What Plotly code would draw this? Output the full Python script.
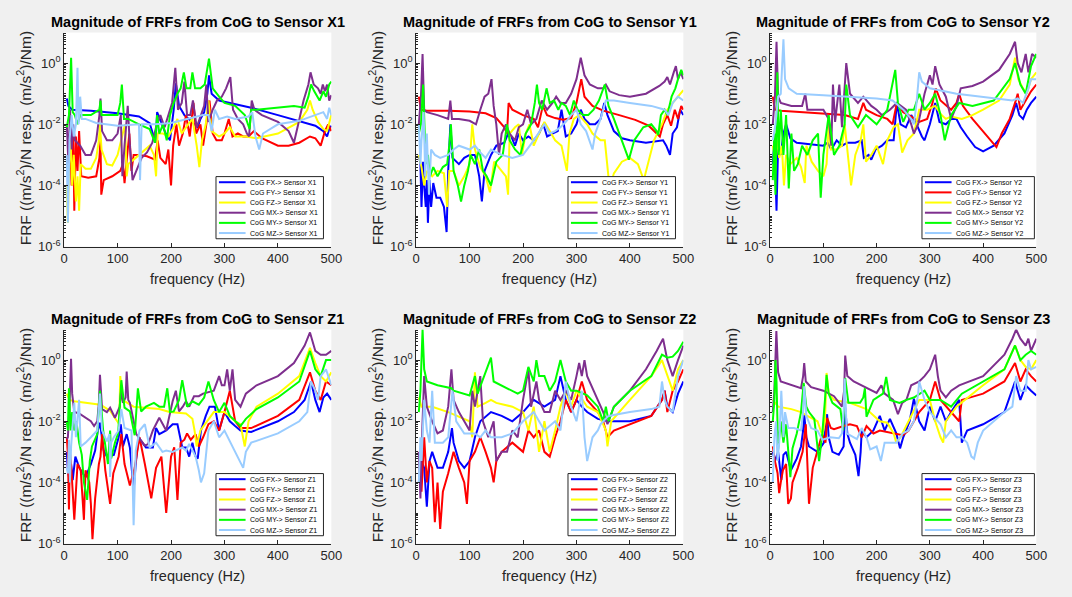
import plotly.graph_objects as go

# ---------------- data (frequency Hz, FRF magnitude) ----------------
SENSORS = ["X1", "Y1", "Y2", "Z1", "Z2", "Z3"]
INPUTS = ["FX", "FY", "FZ", "MX", "MY", "MZ"]
COLORS = ["#0000ff", "#ff0000", "#ffff00", "#7e2f8e", "#00ff00", "#99ccff"]
X_TICKS = [0, 100, 200, 300, 400, 500]
Y_TICKS = [1e-6, 1e-4, 1e-2, 1e0]
Y_TICK_TEXT = ["10<sup>-6</sup>", "10<sup>-4</sup>", "10<sup>-2</sup>", "10<sup>0</sup>"]
Y_MINOR = [m * 10.0 ** e for e in range(-6, 1) for m in range(1, 10)] + [10.0]

X1_FX = [(5,7e-2),(8,4e-2),(15,3e-2),(50,2.8e-2),(100,2.3e-2),(140,1.8e-2),(160,1.1e-2),(168,4e-3),(171,2.5e-3),(174,2.5e-2),(180,1.4e-2),(190,5e-3),(198,3e-3),(205,3e-2),(209,2.2e-1),(215,4e-2),(225,2e-2),(240,1.2e-2),(250,8e-3),(255,1.5e-2),(262,2.5e-2),(268,1e-1),(271,4e-1),(276,1e-1),(290,6e-2),(300,5.5e-2),(350,3.5e-2),(400,2e-2),(450,1.1e-2),(470,9e-3),(485,6e-3),(492,4e-3),(496,7e-3),(500,9e-3)]
X1_FY = [(5,1e-3),(8,2e-4),(11,3e-3),(14,1e-4),(17,5e-3),(19,1.5e-5),(22,4e-3),(25,3e-4),(28,6e-3),(32,2e-4),(45,1.8e-4),(60,2e-4),(66,8e-4),(68,3e-3),(69.5,5e-5),(74,1.5e-4),(90,2e-4),(105,3e-4),(110,5e-4),(113,1.2e-4),(118,1e-3),(122,5e-3),(126,3e-4),(130,1e-3),(140,1e-3),(155,9e-4),(170,7e-4),(175,3e-3),(180,8e-4),(190,5e-4),(195,1.5e-3),(200,1e-4),(204,2e-3),(210,1e-2),(215,2e-3),(222,5e-3),(228,2e-2),(235,4e-3),(242,5e-2),(247,5e-3),(255,1e-2),(260,2e-3),(266,1e-2),(272,6e-2),(278,5e-3),(285,3e-3),(295,3e-3),(300,5e-3),(308,1.5e-2),(315,4e-3),(325,5e-3),(335,4e-3),(345,4e-3),(355,6e-3),(370,3.5e-3),(400,2e-3),(420,2e-3),(440,2.5e-3),(460,4e-3),(470,3.5e-3),(480,2e-3),(488,6e-3),(494,1e-2),(500,6e-3)]
X1_FZ = [(5,1e-4),(7,6e-6),(9,5e-4),(12,3e-3),(15,1e-4),(18,1e-3),(22,3e-5),(25,2e-4),(28,1.5e-5),(31,5e-4),(40,3.5e-4),(50,3.5e-4),(60,8e-4),(65,3e-3),(67,1e-2),(70,1.5e-3),(80,5e-4),(90,4.5e-4),(100,1e-3),(108,4e-3),(114,1e-2),(117,2e-4),(120,5e-4),(130,7e-4),(140,1e-3),(160,2e-3),(168,1e-3),(172,2e-4),(175,5e-3),(185,5e-3),(195,4e-3),(205,8e-3),(212,1.5e-2),(220,5e-3),(232,1e-2),(240,1.5e-2),(248,2e-3),(253,4e-4),(258,3e-3),(265,1e-2),(270,6e-2),(276,6e-3),(290,4e-3),(300,5e-3),(310,8e-3),(320,4e-3),(340,4e-3),(360,3.5e-3),(400,5e-3),(440,1.2e-2),(455,3e-2),(460,6e-2),(465,3e-2),(475,1.2e-2),(485,7e-3),(492,6e-3),(500,2e-2)]
X1_MX = [(5,1e-2),(8,5e-4),(11,3e-2),(14,1.5e-3),(17,1e-2),(20,3e-3),(30,2e-3),(40,1e-3),(50,1e-3),(60,3e-3),(66,2e-2),(68,7e-2),(71,6e-3),(80,3e-3),(90,3e-3),(100,5e-3),(106,2e-2),(109,2e-4),(113,2e-3),(119,4e-2),(123,2e-3),(128,1.5e-4),(135,3e-4),(145,8e-4),(155,1.2e-3),(165,2.5e-3),(172,8e-3),(180,2e-2),(188,8e-3),(195,2e-2),(202,5e-2),(208,7e-1),(213,3e-2),(220,5e-2),(225,2.5e-1),(230,2e-2),(236,2e-2),(241,6e-2),(248,8e-3),(256,2e-2),(262,4e-2),(266,2e-1),(270,1.2e-2),(278,3e-2),(286,6e-2),(295,8e-2),(303,1.5e-1),(311,3.5e-1),(316,3e-2),(325,1.5e-2),(335,1e-2),(342,5e-3),(346,4e-3),(351,6e-2),(356,3e-2),(370,2e-2),(400,1.2e-2),(420,6e-3),(430,2.5e-3),(438,1e-2),(448,6e-2),(457,2e-1),(461,5e-1),(467,2e-1),(475,1.5e-1),(480,1e-1),(484,2e-1),(488,1.2e-1),(492,2e-1),(496,6e-2),(500,9e-2)]
X1_MY = [(5,8e-3),(9,2e-2),(13,1.5),(16,2.5e-2),(20,2e-2),(25,1e-2),(30,2e-2),(50,2e-2),(66,3e-2),(68,6e-2),(70,2e-2),(100,2e-2),(105,5e-2),(108,2e-1),(112,1.5e-2),(120,1.5e-2),(140,1e-2),(160,7e-3),(170,2.5e-3),(174,2e-2),(178,5e-3),(185,1e-2),(192,3e-3),(198,2e-2),(205,5e-2),(212,1e-1),(218,1.5e-1),(224,5e-1),(229,1.5e-1),(236,1.5e-1),(240,5e-1),(245,1.5e-1),(255,1.5e-1),(263,2e-1),(271,1.4),(278,1.5e-1),(290,8e-2),(300,5e-2),(320,4e-2),(338,2e-2),(347,7e-3),(350,3e-2),(360,3e-2),(400,3.5e-2),(430,4e-2),(450,3.5e-2),(457,8e-2),(462,2e-1),(468,1.2e-1),(478,6e-2),(485,1.2e-1),(490,8e-2),(496,2e-1),(500,2.5e-1)]
X1_MZ = [(5,1e-3),(7,6e-6),(10,3e-3),(14,2e-2),(18,4e-3),(22,1e-2),(25,7e-1),(27,1e-2),(30,8e-2),(33,1.5e-2),(40,1.5e-2),(60,1.1e-2),(100,9e-3),(140,1e-2),(142,1.5e-4),(145,1e-2),(170,1e-2),(200,1.1e-2),(230,1.5e-2),(260,2e-2),(270,2e-2),(276,6e-3),(282,3e-2),(290,1.5e-2),(305,1.8e-2),(320,1.5e-2),(345,1.8e-2),(352,2.5e-2),(358,4e-3),(365,1.5e-3),(372,5e-3),(400,1e-2),(440,1.3e-2),(470,2e-2),(485,2.5e-2),(492,1.5e-2),(496,3.5e-2),(500,2e-2)]

Y1_FX = [(5,1e-3),(8,5e-4),(10,2e-5),(13,6e-4),(15,1e-4),(18,2e-5),(20,1.5e-4),(22,6e-6),(25,1.5e-4),(28,2e-5),(32,1.2e-4),(38,4e-5),(45,4e-5),(52,2e-5),(57,3e-6),(60,3e-4),(64,1e-2),(68,8e-4),(80,5e-4),(90,8e-4),(100,1e-3),(110,1e-3),(118,2e-4),(123,3e-5),(128,3e-4),(140,1e-3),(150,2e-3),(165,2.5e-3),(172,5e-3),(178,4e-3),(185,2e-3),(192,5e-3),(200,3e-3),(210,4e-3),(220,3e-3),(230,5e-3),(238,1e-2),(245,4e-3),(255,5e-3),(265,6e-3),(272,3e-2),(280,4e-3),(290,5e-3),(300,1e-2),(308,3e-2),(315,1.5e-2),(325,1e-2),(335,1e-2),(345,1.5e-2),(352,5e-2),(358,2e-2),(370,6e-3),(385,3.5e-3),(400,3e-3),(430,2.5e-3),(450,2.8e-3),(462,3e-3),(468,2e-3),(475,1e-3),(480,5e-3),(488,8e-3),(494,3e-2),(500,2e-2)]
Y1_FY = [(5,8e-2),(9,3e-2),(20,2.8e-2),(60,2.8e-2),(100,2.6e-2),(130,2.3e-2),(150,1.6e-2),(165,8e-3),(170,5e-3),(173,5e-2),(180,3e-2),(200,2e-2),(220,1.5e-2),(228,8e-3),(237,4e-2),(245,2e-2),(260,1.6e-2),(275,1.4e-2),(290,1.6e-2),(300,5e-2),(309,3e-1),(315,8e-2),(330,4e-2),(350,2.8e-2),(380,2e-2),(410,1.4e-2),(435,9e-3),(450,5e-3),(456,4e-3),(462,1e-2),(470,2e-2),(477,9e-3),(484,3e-2),(490,1.5e-2),(496,4e-2),(500,3e-2)]
Y1_FZ = [(5,1e-3),(10,4e-4),(15,1e-4),(20,3e-4),(30,2e-4),(40,3e-4),(52,2.5e-4),(58,2e-5),(62,3e-4),(70,3e-4),(80,1e-4),(90,2e-4),(100,5e-4),(105,1e-2),(110,1.5e-3),(120,4e-4),(130,2e-4),(138,6e-5),(146,6e-4),(160,3e-4),(168,2e-4),(172,5e-5),(175,5e-3),(185,8e-3),(192,1e-2),(198,1e-3),(205,5e-3),(212,1e-2),(220,2e-3),(230,5e-3),(240,1.2e-2),(250,6e-3),(260,3e-3),(272,2e-3),(282,3e-4),(287,5e-3),(295,1.5e-2),(305,2e-2),(320,1e-2),(330,5e-3),(345,3e-3),(353,3e-3),(358,5e-4),(362,8e-5),(370,2.5e-4),(385,6e-4),(400,8e-4),(415,5e-4),(426,1.5e-4),(432,4e-4),(445,3e-3),(460,1e-2),(470,3e-2),(480,5e-2),(490,8e-2),(500,1.3e-1)]
Y1_MX = [(5,1e-2),(9,8e-2),(12,2),(15,3e-2),(20,2.5e-2),(40,2e-2),(60,1.5e-2),(64,6e-2),(67,1.5e-2),(80,1.5e-2),(100,1.3e-2),(112,1e-2),(120,3e-2),(128,8e-2),(135,1e-1),(141,3e-1),(145,4e-2),(150,1e-2),(155,1e-3),(160,5e-3),(168,1e-2),(175,5e-3),(185,3e-3),(192,8e-3),(200,1e-2),(208,3e-2),(215,1e-2),(225,1.5e-2),(235,6e-2),(245,3e-2),(255,5e-2),(262,8e-2),(270,5e-2),(280,5e-2),(290,1e-1),(300,3e-1),(308,1.5),(315,4e-1),(325,2e-1),(340,1.5e-1),(350,1.5e-1),(355,2e-1),(362,1.2e-1),(380,9e-2),(400,8e-2),(430,1e-1),(455,1.8e-1),(465,2.5e-1),(470,3.5e-1),(475,2e-1),(482,5e-1),(486,8e-1),(490,3e-1),(495,5e-1),(500,3e-1)]
Y1_MY = [(5,5e-3),(9,1e-2),(13,2e-1),(16,3e-3),(18,5e-4),(22,1e-3),(26,2e-4),(32,4e-4),(40,2e-4),(50,4e-4),(58,5e-4),(62,2e-3),(65,1e-2),(70,3e-4),(78,1e-4),(84,3e-5),(90,1e-4),(97,3e-4),(102,1e-3),(110,5e-4),(118,1.5e-3),(125,3e-4),(132,2e-4),(140,1e-4),(150,6e-4),(162,1e-3),(170,1e-2),(175,3e-3),(185,1.5e-3),(195,1e-3),(205,5e-3),(215,1e-2),(222,5e-2),(226,2e-1),(230,5e-2),(236,3e-2),(244,1.5e-1),(250,5e-2),(258,6e-2),(266,3e-2),(272,5e-2),(280,4e-2),(288,2e-2),(295,6e-2),(302,3e-2),(312,2e-2),(322,2e-2),(332,3e-2),(342,6e-2),(353,2e-1),(360,4e-2),(370,1.5e-2),(385,3e-3),(398,7e-4),(408,3e-3),(425,8e-3),(440,1e-2),(450,6e-3),(453,4.5e-3),(458,2e-2),(465,3e-2),(470,2e-2),(478,8e-2),(485,1.5e-1),(490,3e-1),(496,6e-1),(500,4e-1)]
Y1_MZ = [(5,1e-2),(8,5e-4),(10,3e-3),(14,2.5e-2),(17,2e-4),(20,5e-3),(24,5e-5),(28,1.5e-3),(35,1e-3),(45,8e-4),(60,1e-3),(70,1.5e-3),(80,2e-3),(100,1.5e-3),(110,2e-3),(120,1.2e-3),(130,8e-4),(140,1.5e-3),(160,1e-3),(180,8e-4),(200,1e-3),(220,3e-3),(240,1e-2),(250,5e-3),(260,6e-3),(270,8e-3),(280,1.2e-2),(290,2e-2),(300,3e-2),(308,1e-2),(318,6e-3),(330,1.5e-3),(335,5e-3),(345,1.5e-2),(355,6e-2),(370,6e-2),(400,5e-2),(440,4e-2),(465,3e-2),(472,2e-2),(480,5e-2),(490,8e-2),(500,6e-2)]

Y2_FX = [(5,5e-4),(8,3e-3),(12,1.5e-5),(15,2e-3),(20,1e-3),(25,5e-3),(30,1e-2),(38,3.5e-3),(50,2.5e-3),(80,2.2e-3),(100,2e-3),(108,2.5e-3),(115,1.5e-3),(125,3e-3),(135,2e-3),(145,2.5e-3),(160,2.5e-3),(172,3e-3),(176,8e-4),(185,1e-3),(190,7e-4),(198,1.5e-3),(210,2e-3),(220,3e-3),(232,3e-3),(238,5e-2),(245,1e-2),(255,8e-3),(265,2e-2),(275,1e-2),(285,4e-3),(290,3e-3),(300,1e-2),(310,5e-2),(318,1.2e-2),(330,1e-2),(340,1.5e-2),(350,1.5e-2),(358,8e-3),(370,4e-3),(385,1.8e-3),(400,1.3e-3),(420,2e-3),(440,5e-3),(455,2e-2),(462,5e-2),(468,2e-2),(475,1.5e-2),(482,3e-2),(490,5e-2),(500,8e-2)]
Y2_FY = [(5,8e-2),(9,3e-2),(20,2.8e-2),(60,2.5e-2),(100,2.3e-2),(140,2e-2),(165,1.5e-2),(175,5e-2),(180,3e-2),(200,2e-2),(220,1.5e-2),(230,1e-2),(238,5e-2),(250,2.5e-2),(265,1.8e-2),(280,1.2e-2),(295,1.5e-2),(305,5e-2),(311,1.5e-1),(320,6e-2),(340,3e-2),(350,5e-2),(355,1e-1),(362,4e-2),(380,1.5e-2),(400,6e-3),(415,3e-3),(425,1.8e-3),(435,5e-3),(450,1.5e-2),(460,5e-2),(465,1e-1),(470,3e-2),(480,6e-2),(490,1.2e-1),(500,2e-1)]
Y2_FZ = [(5,2e-3),(9,8e-4),(13,3e-3),(17,8e-4),(22,2e-3),(26,1e-4),(30,1e-3),(38,5e-4),(50,8e-4),(58,4e-4),(65,1.2e-4),(68,2e-3),(78,6e-4),(90,3e-4),(100,2e-4),(106,5e-4),(110,1e-2),(114,1.5e-3),(125,1.5e-3),(135,2e-3),(140,1e-2),(145,1.5e-3),(152,1e-4),(160,1e-3),(170,3e-3),(175,1e-2),(180,6e-4),(190,1e-3),(200,2e-3),(212,5e-4),(220,3e-3),(232,8e-3),(240,1e-2),(248,1.2e-3),(258,3e-3),(270,5e-3),(280,3e-2),(295,3e-2),(310,4e-2),(322,2e-2),(330,1.5e-2),(340,1.8e-2),(360,1.5e-2),(380,2e-2),(400,3e-2),(430,6e-2),(450,2e-1),(460,1.5),(466,3e-1),(475,1.5e-1),(482,1e-1),(490,3e-1),(500,5e-1)]
Y2_MX = [(5,1e-2),(9,8e-2),(12,5),(15,8e-2),(20,5e-2),(40,4e-2),(60,4e-2),(66,1e-1),(70,3e-2),(100,3e-2),(110,1.5e-2),(115,2e-3),(118,2e-1),(122,1.2e-2),(130,2e-1),(135,8e-3),(143,1),(150,1e-1),(165,5e-2),(175,8e-2),(190,4e-2),(200,3e-2),(210,2e-2),(225,3e-2),(238,5e-2),(255,3e-2),(265,1e-2),(270,5e-3),(278,1e-2),(290,1e-1),(300,4e-1),(305,2e-1),(310,8e-1),(318,2e-1),(330,8e-2),(340,1.5e-2),(350,4e-2),(358,1.5e-1),(380,1.8e-1),(400,2.5e-1),(430,6e-1),(450,2),(460,5),(465,1),(472,5e-1),(480,2),(485,5e-1),(492,2),(500,1.5)]
Y2_MY = [(5,1.5e-4),(8,5e-3),(10,5e-5),(12,5e-2),(13.5,5e-1),(16,1e-3),(20,3e-2),(25,1e-3),(30,2e-2),(35,8e-5),(40,5e-3),(45,3e-4),(52,5e-4),(60,2e-3),(70,1e-3),(80,3e-3),(90,5e-3),(95,4e-5),(100,1e-3),(110,2e-2),(115,5e-3),(120,1e-3),(130,2e-3),(140,1e-2),(143,2e-1),(150,2e-2),(165,8e-3),(180,2e-2),(200,1e-2),(220,3e-2),(235,6e-1),(240,5e-2),(250,1.2e-2),(260,3e-2),(270,3e-2),(280,1e-1),(290,3e-2),(300,5e-2),(310,1e-1),(320,2e-2),(328,3e-3),(340,2e-2),(355,5e-2),(380,4e-2),(420,6e-2),(450,3e-1),(460,1),(470,2e-1),(480,1e-1),(490,8e-1),(500,2)]
Y2_MZ = [(5,3e-3),(10,1e-2),(15,8e-2),(20,1e-1),(25,6),(28,3e-1),(35,1.5e-1),(50,1e-1),(100,9e-2),(150,8e-2),(200,7e-2),(230,6e-2),(250,3e-2),(265,1.5e-2),(270,1e-2),(275,5e-2),(280,5e-1),(285,2.5e-1),(300,1.5e-1),(350,1e-1),(400,8e-2),(455,6e-2),(465,7e-2),(475,5e-2),(485,1.5e-1),(490,3e-1),(500,3e-1)]

Z1_FX = [(5,1e-3),(7,2.5e-4),(10,1.2e-4),(13,4e-4),(16,1.2e-4),(21,7e-4),(26,4e-4),(31,2.5e-4),(40,1.5e-4),(50,4e-4),(58,1.1e-3),(63,5e-3),(67,9e-3),(71,3e-3),(74,1.1e-3),(80,7e-4),(93,8e-4),(102,3e-3),(106,8e-3),(110,1.5e-3),(117,3.8e-3),(123,1.4e-3),(130,5.6e-5),(134,4e-4),(139,3e-3),(153,1.4e-3),(166,1.4e-3),(172,6e-3),(178,3.8e-3),(191,5e-3),(203,8e-3),(212,8e-3),(221,1.4e-3),(228,1.4e-3),(234,7e-4),(240,2e-3),(246,7e-4),(250,6e-4),(256,5e-3),(265,1.5e-2),(272,3e-2),(282,3e-2),(290,5e-3),(300,2e-2),(310,1e-2),(320,7e-3),(330,5e-3),(350,4.5e-3),(400,1e-2),(430,2e-2),(450,5e-2),(462,2e-1),(470,5e-2),(478,2e-2),(485,6e-2),(492,8e-2),(500,5e-2)]
Z1_FY = [(5,3e-3),(7,8e-4),(9,1.3e-5),(11,1e-3),(14,2e-4),(19,6e-6),(25,4e-4),(31,2.5e-4),(37,6e-6),(40,2.5e-4),(47,1e-4),(50,2e-5),(53,1.4e-6),(58,3e-5),(65,4e-4),(68,7e-4),(71,3.8e-3),(77,2.5e-4),(86,2e-5),(92,2e-4),(102,7e-4),(107,3.8e-3),(113,4e-4),(123,8e-5),(132,3e-4),(141,3e-3),(151,4e-4),(163,3e-5),(172,3e-4),(182,7e-4),(191,1e-5),(200,7e-4),(206,1.4e-3),(212,2.7e-5),(218,2e-3),(225,2.5e-3),(230,4e-3),(237,2.5e-3),(246,3.8e-3),(252,1.5e-3),(260,3e-3),(270,8e-3),(280,1e-2),(290,5e-3),(300,2e-2),(310,1e-1),(320,1e-2),(330,6e-3),(350,6e-3),(400,1.5e-2),(440,5e-2),(460,4e-1),(470,1e-1),(480,5e-2),(490,2e-1),(500,1.5e-1)]
Z1_FZ = [(5,8e-2),(10,5e-2),(19,4.5e-2),(43,4e-2),(68,3.5e-2),(86,2.2e-2),(99,1e-2),(103,8e-3),(105,3e-1),(109,5e-2),(130,3e-2),(153,2.8e-2),(178,2.5e-2),(197,2e-2),(228,1.8e-2),(240,1.2e-2),(244,5e-3),(248,1.5e-3),(255,5e-3),(280,2e-2),(300,2e-2),(320,1e-2),(330,8e-3),(338,1.5e-3),(345,1e-2),(360,3e-2),(400,8e-2),(440,3e-1),(460,2.5),(470,8e-1),(480,3e-1),(490,2e-1),(500,4e-1)]
Z1_MX = [(5,2.6e-3),(7,3e-3),(10,3e-2),(12.9,1.1),(15,8e-2),(19,2e-2),(28,1.8e-2),(40,1.3e-2),(50,1e-2),(56,7e-3),(62,1e-2),(65,4e-2),(67,3.3e-1),(71,2.5e-2),(80,2e-2),(86,2.8e-2),(95,1.3e-2),(104,3e-2),(107,1.2e-1),(110,4e-2),(115,6e-2),(117,4.2e-1),(120,5e-2),(123,4e-2),(135,3.8e-3),(151,1.6e-3),(157,1.8e-3),(166,5e-3),(178,1.3e-2),(191,5e-3),(203,4.5e-2),(209,1e-1),(215,2.1e-2),(222,3e-2),(228,4.5e-2),(234,3e-2),(243,6.6e-2),(252,6.6e-2),(260,8e-2),(280,1e-1),(290,3e-1),(295,1.5e-1),(300,1.5e-1),(305,5e-1),(310,1e-1),(315,5e-1),(320,5e-2),(330,3e-2),(340,8e-2),(360,1.5e-1),(400,3e-1),(430,8e-1),(450,3),(460,8),(470,2),(480,1.5),(490,1.5),(500,2)]
Z1_MY = [(5,1e-2),(7,5e-3),(9,1.2e-1),(12,5e-3),(15,2e-2),(19,5e-3),(23,1e-2),(28,2e-3),(33,8e-4),(37,1e-4),(43,2.7e-5),(48,5e-4),(52,1.5e-3),(62,3.8e-3),(67,1e-1),(73,5e-3),(82,4e-4),(86,5e-3),(88,6e-4),(95,2e-3),(101,4e-3),(107,2.2e-1),(113,2.8e-2),(123,2.1e-2),(132,3.5e-3),(138,1.2e-1),(144,2.1e-2),(153,3e-2),(168,4e-2),(178,3e-2),(187,3e-2),(193,1.2e-1),(198,2e-2),(205,2.1e-2),(215,5e-2),(221,2.2e-1),(230,3e-2),(240,4.5e-2),(252,3.5e-2),(262,6e-2),(270,2e-1),(280,5e-2),(290,2e-2),(300,4e-2),(310,1.5e-2),(320,1e-2),(330,7e-3),(340,1.2e-2),(360,2.5e-2),(400,6e-2),(440,2e-1),(460,2),(470,5e-1),(480,3e-1),(490,1),(500,1)]
Z1_MZ = [(5,3e-4),(7,2e-4),(9,2.5e-3),(11,1e-4),(13,1.5e-3),(16,6e-3),(19,4e-2),(22,3e-3),(25,1e-2),(28,5e-2),(31,1.5e-3),(40,2e-3),(50,3e-3),(62,5e-3),(67,8e-2),(71,5e-3),(80,2.2e-3),(85,3.8e-3),(86,1.5e-4),(88,2e-3),(93,3e-3),(102,5e-3),(107,2.5e-2),(113,6e-3),(126,5e-3),(128,3e-4),(130,4e-6),(134,1.1e-3),(141,5e-3),(151,8e-3),(160,1.4e-3),(172,2e-3),(184,1e-3),(191,1.1e-3),(203,1e-3),(221,1.4e-3),(228,1.1e-3),(234,1.8e-3),(246,7e-4),(252,2.5e-4),(256,1e-4),(262,2e-4),(270,5e-3),(280,1e-2),(290,3e-3),(300,5e-3),(320,1e-3),(330,5e-4),(335,3e-4),(340,1e-3),(350,2e-3),(400,4e-3),(440,1e-2),(455,2e-2),(462,2e-1),(470,1e-1),(475,5e-2),(480,3e-1),(490,5e-1),(500,1.5e-1)]

Z2_FX = [(5,1e-4),(10,5e-4),(15,3e-4),(20,1.6e-5),(25,5e-4),(30,1e-3),(40,3e-4),(50,3e-4),(60,1e-3),(67,6e-3),(70,2e-3),(80,5e-4),(90,3e-4),(100,5e-4),(110,3e-3),(120,1e-2),(140,2e-2),(160,1.5e-2),(180,1e-2),(200,2e-2),(220,5e-2),(240,3e-2),(260,5e-2),(270,3e-1),(280,5e-2),(290,2e-2),(300,5e-2),(310,3e-2),(320,2e-2),(340,1.2e-2),(360,1e-2),(400,1e-2),(440,1.5e-2),(460,5e-2),(465,1e-1),(470,3e-2),(480,2e-2),(490,8e-2),(500,2e-1)]
Z2_FY = [(5,1e-3),(10,5e-5),(15,3e-3),(20,1e-4),(25,5e-4),(30,3e-4),(35,5e-6),(40,1e-4),(45,3e-6),(50,5e-5),(60,2e-4),(70,1e-3),(80,3e-4),(90,1e-4),(95,2e-5),(100,5e-4),(110,1e-3),(120,3e-3),(130,1e-3),(140,3e-4),(145,1e-4),(150,5e-4),(160,1e-3),(180,2e-3),(200,1e-3),(210,5e-3),(220,3e-3),(230,5e-3),(240,1e-3),(250,7e-4),(260,3e-3),(270,1e-2),(280,5e-2),(290,2e-2),(300,5e-2),(310,2e-1),(320,5e-2),(340,2e-2),(350,1e-2),(358,3e-3),(370,5e-3),(400,8e-3),(440,1.5e-2),(460,5e-2),(465,1e-1),(470,2e-2),(480,1e-1),(490,2e-1),(500,5e-1)]
Z2_FZ = [(5,6e-2),(10,3e-2),(30,3e-2),(60,2e-2),(100,1e-2),(105,3e-3),(110,4e-1),(115,3e-2),(130,4e-2),(140,5e-2),(150,4e-2),(180,3e-2),(200,2e-2),(210,5e-3),(220,3e-2),(230,1e-3),(240,1e-2),(250,1e-3),(260,5e-3),(270,3e-2),(280,1e-1),(290,3e-2),(300,1e-1),(320,3e-2),(340,2e-2),(355,5e-3),(358,1.5e-3),(365,1e-2),(400,5e-2),(440,3e-1),(460,1),(470,3e-1),(480,1e-1),(490,5e-1),(500,1)]
Z2_MX = [(5,1e-3),(8,3e-5),(10,1e-3),(12,2e-2),(15,3e-1),(20,3e-2),(30,1e-2),(40,4e-3),(50,5e-3),(60,3e-2),(66,5e-1),(70,5e-2),(80,2e-2),(90,1e-2),(100,5e-3),(105,1e-1),(110,3e-2),(120,3e-1),(125,1e-2),(135,3e-3),(145,1e-2),(150,5e-4),(160,1e-3),(170,1e-3),(180,5e-3),(190,3e-3),(200,5e-2),(210,5e-1),(215,3e-2),(225,2e-1),(230,5e-2),(240,2e-2),(250,2e-2),(260,1e-1),(270,5e-2),(280,1e-1),(290,5e-2),(300,3e-1),(305,8e-1),(310,3e-1),(315,1),(320,3e-1),(340,5e-2),(350,2e-2),(358,8e-3),(370,3e-2),(400,1e-1),(430,5e-1),(450,2),(462,5),(470,1),(480,3e-1),(490,1),(500,3)]
Z2_MY = [(5,2e-2),(8,1e-1),(12,10),(15,5e-1),(20,2e-1),(40,1.5e-1),(66,1.2e-1),(70,1e-1),(100,7e-2),(110,3e-1),(115,8e-2),(140,1.2),(145,2e-1),(170,1.2e-1),(190,8e-2),(200,1e-1),(210,6e-1),(220,2e-1),(225,1),(230,3e-1),(240,3e-1),(250,1e-1),(260,2e-1),(270,1),(280,2e-1),(290,1e-1),(300,1e-1),(320,7e-2),(340,3e-2),(350,1e-2),(355,3e-2),(360,1e-2),(370,3e-2),(400,1e-1),(440,3e-1),(460,1.5),(470,1.2),(480,1.3),(490,2),(500,4)]
Z2_MZ = [(5,1e-4),(8,3e-3),(10,5e-4),(15,5e-2),(20,5e-3),(25,2e-3),(30,1e-1),(35,2e-3),(50,2e-3),(60,3e-3),(68,1e-1),(75,1e-2),(90,4e-3),(110,4e-3),(120,3e-3),(130,5e-3),(140,3e-3),(160,3e-3),(180,4e-3),(200,1e-2),(220,2e-2),(240,5e-3),(260,1e-2),(270,5e-3),(275,3e-2),(280,2e-1),(290,3e-2),(300,1e-2),(310,1e-1),(315,3e-3),(320,5e-4),(330,3e-3),(340,5e-3),(345,8e-3),(350,1e-2),(360,1.5e-2),(400,2e-2),(440,2.5e-2),(455,3e-2),(460,2e-1),(465,5e-2),(470,3e-2),(480,2e-2),(490,3e-1),(500,1)]

Z3_FX = [(5,1e-3),(9,5e-4),(15,1e-3),(21,1.2e-4),(25,8e-4),(30,1e-3),(39,2.5e-4),(50,6e-4),(58,1.5e-3),(62,5e-3),(64,1.7e-2),(68,3e-3),(73,1.5e-3),(89,1e-3),(101,2e-3),(105,8e-3),(107,1.7e-2),(110,3e-3),(117,1e-3),(129,8e-4),(138,1.5e-3),(141,2.8e-2),(145,4e-3),(150,2e-3),(160,8e-4),(166,1.6e-4),(170,1e-3),(172,5e-3),(181,3e-3),(194,5e-3),(206,1.5e-2),(215,5e-3),(225,1.2e-2),(237,4e-3),(244,1.3e-3),(250,3e-3),(262,1e-2),(270,5.5e-2),(280,1e-2),(290,5e-3),(300,3e-2),(310,1e-2),(320,3e-2),(330,1e-2),(340,2e-2),(355,5e-2),(360,2e-3),(370,5e-3),(400,8e-3),(440,2e-2),(460,2e-1),(470,5e-2),(480,1.5e-1),(490,1e-1),(500,7e-2)]
Z3_FY = [(5,1.5e-3),(9,5e-4),(14,2e-4),(17,4.5e-5),(20,1e-4),(24,2.5e-4),(30,4e-4),(34,2e-5),(39,3e-5),(42,1e-4),(52,3e-4),(61,1e-3),(67,8e-3),(70,2.5e-4),(73,2e-5),(80,3e-4),(89,1e-3),(98,4e-3),(104,2e-3),(107,1.3e-2),(114,6e-3),(120,5.5e-3),(138,7e-3),(150,8e-3),(163,7e-3),(172,3e-3),(181,7e-3),(194,4e-3),(206,5e-3),(231,4e-3),(249,3.5e-3),(260,5e-3),(280,2e-2),(300,5e-2),(310,2e-1),(320,5e-2),(340,2e-2),(355,1e-2),(360,5e-2),(400,8e-2),(440,2e-1),(460,8e-1),(470,2e-1),(480,5e-1),(490,3e-1),(500,2e-1)]
Z3_FZ = [(5,5e-2),(15,3e-2),(40,2.5e-2),(58,2e-2),(70,1.5e-2),(89,1e-2),(98,3.5e-3),(103,1e-2),(106,3.8e-1),(110,8e-2),(120,5e-2),(150,4e-2),(181,2.5e-2),(206,1e-2),(220,9e-3),(232,4e-3),(237,2e-3),(245,3e-3),(260,1e-2),(280,5e-2),(300,5e-2),(310,1e-2),(320,3e-3),(325,2e-3),(330,1e-2),(350,3e-2),(400,1.5e-1),(440,5e-1),(460,3),(470,1),(480,6e-1),(490,5e-1),(500,1)]
Z3_MX = [(5,2e-2),(8,1e-1),(11.7,9),(15,4e-1),(20,2e-1),(40,1.5e-1),(58,1.2e-1),(62,3e-1),(64,8e-1),(67,2e-1),(77,1.3e-1),(100,1e-1),(120,6.6e-2),(135,3e-2),(139,1e-1),(141,1.4),(145,3e-1),(157,2e-1),(181,1.2e-1),(200,8.5e-2),(209,1.5e-1),(215,8e-2),(231,5e-2),(240,1.7e-2),(248,4e-2),(256,5e-2),(265,1.5e-1),(280,2e-1),(290,3e-1),(300,5e-1),(310,1.5),(315,3e-1),(320,1e-1),(330,6e-2),(340,1e-1),(355,1.5e-1),(400,3e-1),(440,1.5),(455,5),(462,10),(470,5),(480,3),(485,5),(490,2),(500,5)]
Z3_MY = [(5,1e-2),(8,5e-2),(10,1),(12,2e-1),(15,1.2e-3),(20,1e-2),(25,2e-3),(30,8e-3),(38,1.5e-4),(42,1.3e-3),(50,4e-3),(58,2e-2),(63,1.8e-1),(68,3e-2),(73,2e-2),(83,1.2e-2),(92,5e-4),(98,4e-3),(103,5e-2),(106,3.3e-1),(110,8e-2),(117,4e-2),(132,2.5e-2),(137,5e-3),(139,3e-2),(141,2.6e-1),(147,4e-2),(169,4e-2),(175,6e-2),(178,1.2e-1),(181,1.4e-2),(194,5e-2),(212,8e-2),(218,2.8e-1),(225,5e-2),(243,4e-2),(256,5e-2),(270,6e-2),(290,1e-1),(300,5e-2),(320,5e-2),(340,3e-2),(360,8e-2),(400,2e-1),(440,5e-1),(460,3),(470,1),(480,1.5),(490,2),(500,1.5)]
Z3_MZ = [(5,1e-4),(8,3e-3),(11,1e-2),(14,5e-4),(17,2e-3),(21,1e-1),(25,3e-3),(28,2e-2),(34,6e-3),(45,6e-3),(58,5e-3),(62,2e-2),(64,1.4e-1),(68,1.5e-2),(77,6e-3),(89,5e-3),(98,2.5e-3),(113,3e-3),(129,2.8e-3),(135,4e-3),(138,2e-2),(140,2.5e-1),(144,4e-3),(163,2.6e-3),(172,6e-3),(181,3e-3),(188,1.2e-3),(200,1.5e-3),(208,5e-4),(215,2e-3),(237,2e-3),(249,4e-3),(260,5e-3),(270,1e-2),(278,8e-2),(280,2e-1),(290,5e-2),(300,2e-2),(320,8e-3),(330,3e-3),(340,5e-3),(350,3e-3),(360,3e-3),(370,2e-3),(378,7e-4),(383,6e-4),(390,2e-3),(400,5e-3),(440,2e-2),(455,3e-2),(462,3e-1),(470,1e-1),(480,1e-1),(485,1),(490,5e-1),(500,6e-1)]

PANELS = {
    "X1": [X1_FX, X1_FY, X1_FZ, X1_MX, X1_MY, X1_MZ],
    "Y1": [Y1_FX, Y1_FY, Y1_FZ, Y1_MX, Y1_MY, Y1_MZ],
    "Y2": [Y2_FX, Y2_FY, Y2_FZ, Y2_MX, Y2_MY, Y2_MZ],
    "Z1": [Z1_FX, Z1_FY, Z1_FZ, Z1_MX, Z1_MY, Z1_MZ],
    "Z2": [Z2_FX, Z2_FY, Z2_FZ, Z2_MX, Z2_MY, Z2_MZ],
    "Z3": [Z3_FX, Z3_FY, Z3_FZ, Z3_MX, Z3_MY, Z3_MZ],
}

# ---------------- layout geometry (pixels) ----------------
W, H = 1072, 597
COLS = [(61, 332), (418, 689), (777, 1047)]
ROWS = [(33, 250), (334, 551)]
FONT = "Liberation Sans, Arial, Helvetica, sans-serif"
AXC = "#262626"

fig = go.Figure()
layout = dict(
    width=W, height=H, autosize=False,
    margin=dict(l=0, r=0, t=0, b=0),
    paper_bgcolor="#f0f0f0", plot_bgcolor="white",
    showlegend=False, font=dict(family=FONT, color=AXC, size=13),
)
annotations = []
shapes = []

for k, sensor in enumerate(SENSORS):
    r, c = divmod(k, 3)
    x0p, x1p = COLS[c]
    y0p, y1p = ROWS[r]
    sfx = "" if k == 0 else str(k + 1)
    xa, ya = "x" + sfx, "y" + sfx
    layout["xaxis" + sfx] = dict(
        domain=[x0p / W, x1p / W], anchor=ya, range=[0, 500],
        tickvals=X_TICKS, ticks="inside", ticklen=4, tickcolor=AXC,
        showline=True, linecolor=AXC, linewidth=1, showgrid=False, zeroline=False,
        tickfont=dict(size=13, color=AXC, family=FONT), mirror=False,
    )
    layout["yaxis" + sfx] = dict(
        domain=[1 - y1p / H, 1 - y0p / H], anchor=xa, type="log", range=[-6, 1],
        tickvals=Y_TICKS, ticktext=Y_TICK_TEXT, ticks="inside", ticklen=4, tickcolor=AXC,
        showline=True, linecolor=AXC, linewidth=1, showgrid=False, zeroline=False,
        tickfont=dict(size=13, color=AXC, family=FONT), mirror=False,
        minor=dict(tickmode="array", tickvals=Y_MINOR, ticks="inside", ticklen=2,
                   tickcolor=AXC, showgrid=False),
    )
    for i, series in enumerate(PANELS[sensor]):
        fig.add_trace(go.Scatter(
            x=[p[0] for p in series], y=[p[1] for p in series],
            mode="lines", line=dict(color=COLORS[i], width=2),
            xaxis=xa, yaxis=ya, name=f"CoG {INPUTS[i]}-> Sensor {sensor}",
            hoverinfo="skip",
        ))
    cx = (x0p + x1p) / 2 / W
    annotations.append(dict(
        text=f"<b>Magnitude of FRFs from CoG to Sensor {sensor}</b>",
        x=cx, y=1 - (y0p - 11) / H, xref="paper", yref="paper",
        xanchor="center", yanchor="middle", showarrow=False,
        font=dict(size=14.5, color="black", family=FONT)))
    annotations.append(dict(
        text="frequency (Hz)", x=cx, y=1 - (y1p + 33) / H, xref="paper", yref="paper",
        xanchor="center", yanchor="middle", showarrow=False,
        font=dict(size=14.5, color=AXC, family=FONT)))
    annotations.append(dict(
        text="FRF ((m/s<sup>2</sup>)/N resp. (m/s<sup>2</sup>)/Nm)",
        x=(x0p - 41) / W, y=1 - ((y0p + y1p) / 2 - 1) / H, xref="paper", yref="paper",
        xanchor="center", yanchor="middle", textangle=-90, showarrow=False,
        font=dict(size=15.5, color=AXC, family=FONT)))
    # legend box drawn in axis-domain coordinates
    pw, ph = x1p - x0p, y1p - y0p
    lx0, lx1 = 154 / pw, (263 if c < 2 else 268) / pw
    ly0, ly1 = 8 / ph, 71 / ph
    xd, yd = xa + " domain", ya + " domain"
    shapes.append(dict(type="rect", xref=xd, yref=yd, x0=lx0, x1=lx1, y0=ly0, y1=ly1,
                       fillcolor="white", line=dict(color=AXC, width=1), layer="above"))
    for i in range(6):
        yy = (65.3 - 10.3 * i) / ph
        shapes.append(dict(type="line", xref=xd, yref=yd,
                           x0=lx0 + 3 / pw, x1=lx0 + 30 / pw, y0=yy, y1=yy,
                           line=dict(color=COLORS[i], width=2), layer="above"))
        annotations.append(dict(
            text=f"CoG {INPUTS[i]}-> Sensor {sensor}", xref=xd, yref=yd,
            x=lx0 + 32 / pw, y=yy, xanchor="left", yanchor="middle", showarrow=False,
            font=dict(size=7, color="black", family=FONT)))

layout["annotations"] = annotations
layout["shapes"] = shapes
fig.update_layout(**layout)
fig.write_html("out.html")
